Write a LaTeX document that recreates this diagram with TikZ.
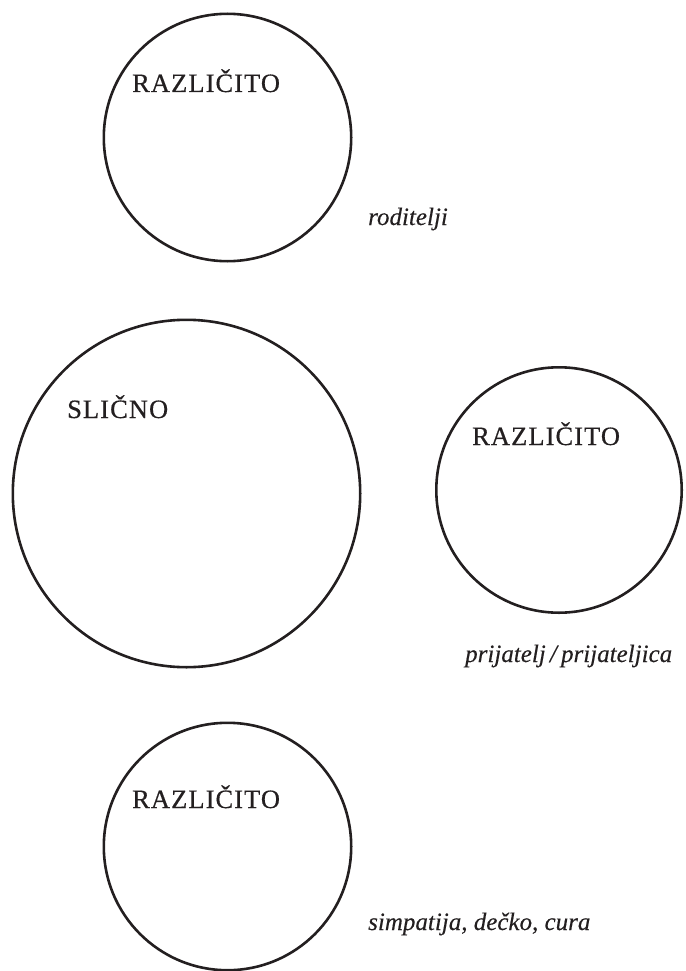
\documentclass[tikz,border=0pt]{standalone}
\usepackage{fontspec}
\setmainfont{Liberation Serif}[ItalicFeatures={FakeBold=0.3}]
\newfontfamily\capsfont[LetterSpace=4,FakeBold=0.5]{Liberation Serif}
\definecolor{ink}{HTML}{231F20}
\begin{document}
\begin{tikzpicture}[x=1pt,y=-1pt,
  ring/.style={circle,draw=ink,line width=2.6pt,inner sep=0pt,minimum size=#1},
  captxt/.style={anchor=base west,inner sep=0pt,text=ink,font=\capsfont\fontsize{26.5}{29}\selectfont},
  itxt/.style={anchor=base west,inner sep=0pt,text=ink,font=\itshape\fontsize{25}{28}\selectfont}]
\useasboundingbox (0,0) rectangle (685,971);
% circles
\node[ring=247.4pt] (c1) at (227.5,137.5) {};
\node[ring=347.4pt] (c2) at (186.5,493.5) {};
\node[ring=245.4pt] (c3) at (559,490) {};
\node[ring=247.4pt] (c4) at (227.5,846.5) {};
% headings
\node[captxt] (t1) at (132,92) {RAZLIČITO};
\node[captxt] (t2) at (67,418) {SLIČNO};
\node[captxt] (t3) at (472,445) {RAZLIČITO};
\node[captxt] (t4) at (132,808) {RAZLIČITO};
% labels
\node[itxt] (l1) at (368,225) {roditelji};
\node[itxt] (l2) at (465,662) {prijatelj\,/\,prijateljica};
\node[itxt] (l3) at (368,930) {simpatija, dečko, cura};
\end{tikzpicture}
\end{document}
